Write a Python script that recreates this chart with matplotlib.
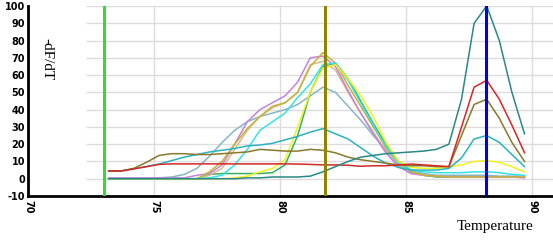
import matplotlib
matplotlib.use("Agg")
import matplotlib.pyplot as plt

temperature = [73.2, 73.7, 74.2, 74.7, 75.2, 75.7, 76.2, 76.7, 77.2, 77.7,
               78.2, 78.7, 79.2, 79.7, 80.2, 80.7, 81.2, 81.7, 82.2, 82.7,
               83.2, 83.7, 84.2, 84.7, 85.2, 85.7, 86.2, 86.7, 87.2, 87.7,
               88.2, 88.7, 89.2, 89.7]

cadet = [0, 0, 0, 0, 0.5, 1, 2.5, 6, 13, 21, 28, 33, 36, 38, 40, 43, 48, 53,
         50, 42, 34, 25, 17, 10, 5, 3, 2, 2, 2, 2, 2, 1.5, 1.5, 1.5]
green = [0, 0, 0, 0, 0, 0, 0, 0, 2.5, 3, 3, 3, 3, 3.5, 8, 25, 50, 65,
         67, 58, 45, 32, 20, 10, 4, 2, 1, 1, 1, 1, 1, 1, 1, 1]
tan = [0, 0, 0, 0, 0, 0, 0, 0, 2, 6, 17, 28, 36, 41, 44, 50, 66, 68,
       63, 50, 38, 27, 16, 8, 3, 2, 1.5, 1, 1, 1, 1, 1, 1, 1]
violet = [0.5, 0.5, 0.5, 0.5, 0.5, 0.5, 0.5, 2, 3, 8, 20, 33, 40, 44, 48, 56, 70, 71,
          65, 51, 38, 26, 15, 7, 3, 2, 1.5, 1, 1, 1, 1, 1, 1, 0.5]
gold = [0, 0, 0, 0, 0, 0, 0, 0, 4, 10, 20, 29, 36, 42, 44, 50, 65, 73,
        67, 54, 42, 30, 18, 9, 4, 2, 1.5, 1, 1, 1, 1, 1, 1, 1]
cyan = [0, 0, 0, 0, 0, 0, 0, 0, 0.5, 2, 8, 17, 28, 33, 38, 47, 55, 66,
        67, 57, 44, 31, 19, 9, 5, 4, 3.5, 3.5, 3.5, 4, 4, 3.5, 2.5, 2]
yellow = [0, 0, 0, 0, 0, 0, 0, 0, 0, 0, 0.5, 1.5, 4, 6, 11, 30, 50, 64,
          66, 58, 48, 36, 21, 10, 6.5, 6, 6, 7, 8, 10, 10.5, 9.5, 7, 4]
teal_cyan = [4.5, 4.5, 5.7, 7, 8.5, 10.5, 12.5, 14, 15.5, 16.5, 17.5, 19, 19.5, 20.5, 22.5, 24.5, 27, 29,
             26, 23, 18, 13, 9, 6.5, 5, 5, 5, 6, 12, 23, 25, 21, 14, 7]
olive = [4.5, 4.5, 6, 9.5, 13.5, 14.5, 14.5, 14, 14, 14.5, 15, 15.5, 17, 16.5, 16, 16, 17, 16.5,
         15, 12.5, 11, 10, 9, 8, 7.5, 7.5, 7, 7, 25, 43, 46, 35, 21, 10]
red = [4.5, 4.5, 5.7, 7, 8.3, 8.6, 8.6, 8.6, 8.6, 8.6, 8.6, 8.6, 8.6, 8.6, 8.6, 8.5, 8.3, 8,
       8, 7.8, 7.2, 7.5, 7.5, 8, 8.5, 8, 7.5, 7, 30, 53, 57, 46, 31, 15]
dark_teal = [0, 0, 0, 0, 0, 0, 0, 0, 0, 0, 0, 0.5, 0.5, 1, 1, 1, 1.5, 4,
             7, 10, 12.5, 13.5, 14.5, 15, 15.5, 16, 17, 20, 46, 90, 100, 80, 50, 26]

series = [
    (cadet, "#86B6C4"),
    (green, "#33B060"),
    (tan, "#D4BC8E"),
    (violet, "#C283DC"),
    (gold, "#C8B236"),
    (cyan, "#33E2EA"),
    (yellow, "#F4F21E"),
    (teal_cyan, "#2CB2BE"),
    (olive, "#87792A"),
    (red, "#D42828"),
    (dark_teal, "#2A8888"),
]

marker_temps = [73.0, 81.8, 88.16]
marker_colors = ["#30DD30", "#8E8400", "#0000E0"]

y_ticks = [-10, 0, 10, 20, 30, 40, 50, 60, 70, 80, 90, 100]
x_ticks = [70, 75, 80, 85, 90]

fig = plt.figure(figsize=(5.53, 2.40), dpi=100)
ax = fig.add_axes([28 / 553, 44 / 240, 1 - 28 / 553, 190 / 240])
ax.set_xlim(70, 90.83)
ax.set_ylim(-10, 100)

# grid
ax.hlines([t for t in y_ticks if t >= 0], 72.3, 90.83, color="#DCDCDC", lw=1, zorder=0)
ax.vlines([75, 80, 85, 90], -10, 100, color="#DCDCDC", lw=1, zorder=0)

for vals, col in series:
    ax.plot(temperature, vals, color=col, lw=1.1, zorder=2)

for t, c in zip(marker_temps, marker_colors):
    ax.axvline(t, color=c, lw=2.2, zorder=3)

for s in ["top", "right"]:
    ax.spines[s].set_visible(False)
for s in ["left", "bottom"]:
    ax.spines[s].set_linewidth(2)
    ax.spines[s].set_color("black")

ax.set_yticks(y_ticks)
ax.set_yticklabels([str(t) for t in y_ticks], fontsize=7, fontweight="bold")
ax.set_xticks(x_ticks)
ax.set_xticklabels([str(t) for t in x_ticks], fontsize=7, fontweight="bold", rotation=-90)
ax.tick_params(axis="both", length=0)
ax.tick_params(axis="y", pad=2)
ax.tick_params(axis="x", pad=3)

ax.text(0.036, 0.72, "-dF/dT", transform=ax.transAxes, rotation=-90,
        family="Liberation Serif", fontsize=11, ha="center", va="center")
fig.text(0.895, 0.058, "Temperature", family="Liberation Serif", fontsize=11,
         ha="center", va="center")

fig.savefig("out.png", dpi=100)
